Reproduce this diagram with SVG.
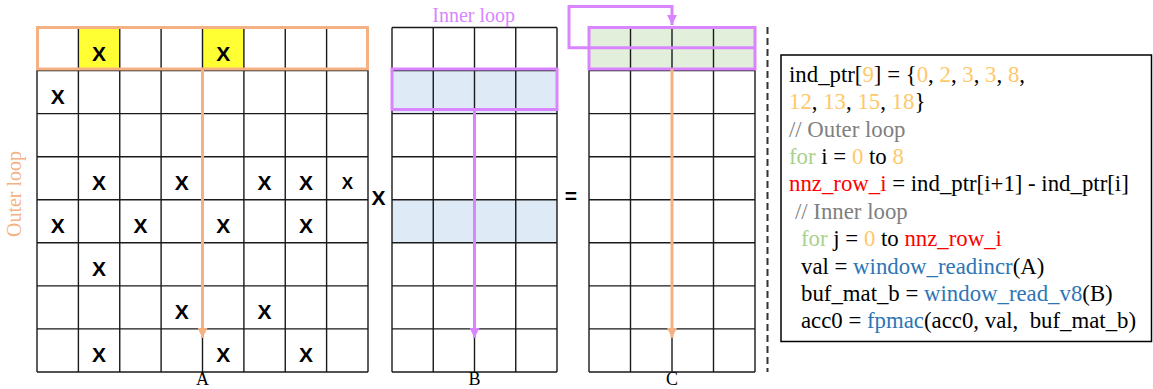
<svg xmlns="http://www.w3.org/2000/svg" width="1153" height="389" viewBox="0 0 1153 389">
  <style>
    .grid { fill: none; stroke: #1a1a1a; stroke-width: 1.4; }
    .mark { font-family: "Liberation Sans", Arial, sans-serif; font-weight: bold; font-size: 21px; fill: #000; text-anchor: middle; }
    .serif { font-family: "Liberation Serif", "Times New Roman", serif; }
    .lbl { font-size: 18px; fill: #000; text-anchor: middle; }
    .code { font-family: "Liberation Serif", "Times New Roman", serif; font-size: 22.8px; fill: #000; white-space: pre; }
    .num { fill: #FFC869; }
    .kw { fill: #A9D18E; }
    .cmt { fill: #7F7F7F; }
    .red { fill: #FF0000; }
    .fn { fill: #2E75B6; }
    .outer { stroke: #F4B183; stroke-width: 3; fill: none; }
    .inner { stroke: #D985FF; stroke-width: 3; fill: none; }
  </style>
  <defs>
    <marker id="headOuter" markerUnits="userSpaceOnUse" markerWidth="10" markerHeight="10" refX="10" refY="5" orient="auto">
      <path d="M0,0 L10,5 L0,10 Z" fill="#F4B183"/>
    </marker>
    <marker id="headInner" markerUnits="userSpaceOnUse" markerWidth="10" markerHeight="10" refX="10" refY="5" orient="auto">
      <path d="M0,0 L10,5 L0,10 Z" fill="#D985FF"/>
    </marker>
  </defs>

  <rect width="1153" height="389" fill="#fff"/>

  <!-- Sparse matrix A (8 x 8) -->
  <g id="matrixA">
    <rect x="78.4" y="27.5" width="41.35" height="43.1" fill="#FFFF33"/>
    <rect x="202.5" y="27.5" width="41.4" height="43.1" fill="#FFFF33"/>
    <path class="grid" d="M37 27.5V372M78.4 27.5V372M119.75 27.5V372M161.1 27.5V372M202.5 27.5V372M243.9 27.5V372M285.25 27.5V372M326.6 27.5V372M368 27.5V372M37 27.5H368M37 70.6H368M37 113.6H368M37 156.7H368M37 199.7H368M37 242.8H368M37 285.9H368M37 328.9H368M37 372H368"/>
    <g class="mark">
      <text x="99.1" y="61">X</text>
      <text x="223.2" y="61">X</text>
      <text x="57.7" y="104.1">X</text>
      <text x="99.1" y="190.2">X</text>
      <text x="181.8" y="190.2">X</text>
      <text x="264.6" y="190.2">X</text>
      <text x="305.9" y="190.2">X</text>
      <text x="347.3" y="189" font-size="17">X</text>
      <text x="57.7" y="233.2">X</text>
      <text x="140.4" y="233.2">X</text>
      <text x="223.2" y="233.2">X</text>
      <text x="305.9" y="233.2">X</text>
      <text x="99.1" y="276.3">X</text>
      <text x="181.8" y="319.4">X</text>
      <text x="264.6" y="319.4">X</text>
      <text x="99.1" y="362.4">X</text>
      <text x="223.2" y="362.4">X</text>
      <text x="305.9" y="362.4">X</text>
    </g>
    <rect class="outer" x="37.5" y="27.5" width="330" height="41.5"/>
    <text class="serif lbl" x="202.5" y="385">A</text>
    <text class="serif" x="0" y="0" font-size="20" fill="#F4B183" text-anchor="middle" transform="translate(21,194) rotate(-90)">Outer loop</text>
  </g>

  <!-- multiply sign -->
  <g id="opTimes">
    <text class="mark" x="378.5" y="205" font-size="24">X</text>
  </g>

  <!-- Dense matrix B (8 x 4) -->
  <g id="matrixB">
    <rect x="392" y="70.6" width="165" height="43" fill="#DEEBF7"/>
    <rect x="392" y="199.7" width="165" height="43.1" fill="#DEEBF7"/>
    <path class="grid" d="M392 27.5V372M433.25 27.5V372M474.5 27.5V372M515.75 27.5V372M557 27.5V372M392 27.5H557M392 70.6H557M392 113.6H557M392 156.7H557M392 199.7H557M392 242.8H557M392 285.9H557M392 328.9H557M392 372H557"/>
    <rect class="inner" x="392" y="69" width="165" height="40.5"/>
    <text class="serif lbl" x="474.5" y="385">B</text>
    <text class="serif" x="473.7" y="21.7" font-size="20" fill="#D985FF" text-anchor="middle">Inner loop</text>
  </g>

  <!-- equals sign -->
  <g id="opEquals">
    <text class="mark" x="571" y="203" font-size="26">=</text>
  </g>

  <!-- Result matrix C (8 x 4) -->
  <g id="matrixC">
    <rect x="589" y="27.5" width="166" height="43.1" fill="#E2EFDA"/>
    <path class="grid" d="M589 27.5V372M630.5 27.5V372M672 27.5V372M713.5 27.5V372M755 27.5V372M589 27.5H755M589 70.6H755M589 113.6H755M589 156.7H755M589 199.7H755M589 242.8H755M589 285.9H755M589 328.9H755M589 372H755"/>
    <rect class="inner" x="589" y="27.5" width="166" height="41.5"/>
    <text class="serif lbl" x="672" y="385">C</text>
  </g>

  <!-- loop arrows -->
  <g id="connectors">
    <path class="outer" d="M202.5 69V338" marker-end="url(#headOuter)"/>
    <path class="outer" d="M672 69V338" marker-end="url(#headOuter)"/>
    <path class="inner" d="M474.5 109.5V338" marker-end="url(#headInner)"/>
    <path class="inner" d="M755 47.7H569V6.5H672V25" marker-end="url(#headInner)"/>
  </g>

  <!-- separator -->
  <g id="separator">
    <path d="M767.5 27V372" stroke="#333" stroke-width="2" stroke-dasharray="7 4" fill="none"/>
  </g>

  <!-- Kernel pseudo-code -->
  <g id="codeBox">
    <rect x="781" y="55" width="370.5" height="286.5" fill="#fff" stroke="#000" stroke-width="1.5"/>
    <text class="code" x="789" y="81.7">ind_ptr[<tspan class="num">9</tspan>] = {<tspan class="num">0</tspan>, <tspan class="num">2</tspan>, <tspan class="num">3</tspan>, <tspan class="num">3</tspan>, <tspan class="num">8</tspan>,</text>
    <text class="code" x="789" y="109.1"><tspan class="num">12</tspan>, <tspan class="num">13</tspan>, <tspan class="num">15</tspan>, <tspan class="num">18</tspan>}</text>
    <text class="code cmt" x="789" y="136.5">// Outer loop</text>
    <text class="code" x="789" y="163.9"><tspan class="kw">for</tspan> i = <tspan class="num">0</tspan> to <tspan class="num">8</tspan></text>
    <text class="code" x="789" y="191.3"><tspan class="red">nnz_row_i</tspan> = ind_ptr[i+1] - ind_ptr[i]</text>
    <text class="code cmt" x="795" y="218.7">// Inner loop</text>
    <text class="code" x="801" y="246.1"><tspan class="kw">for</tspan> j = <tspan class="num">0</tspan> to <tspan class="red">nnz_row_i</tspan></text>
    <text class="code" x="801" y="273.5">val = <tspan class="fn">window_readincr</tspan>(A)</text>
    <text class="code" x="801" y="300.9">buf_mat_b = <tspan class="fn">window_read_v8</tspan>(B)</text>
    <text class="code" x="801" y="328.3">acc0 = <tspan class="fn">fpmac</tspan>(acc0, val,  buf_mat_b)</text>
  </g>
</svg>
